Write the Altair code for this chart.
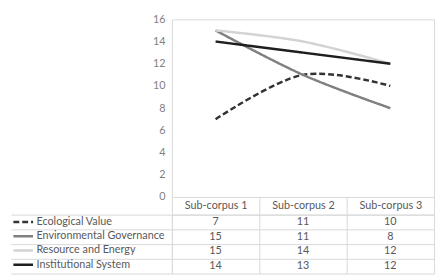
import altair as alt
import pandas as pd

corpora = ["Sub-corpus 1", "Sub-corpus 2", "Sub-corpus 3"]
series = ["Ecological Value", "Environmental Governance", "Resource and Energy", "Institutional System"]
ecological = [7, 11, 10]
environmental = [15, 11, 8]
resource = [15, 14, 12]
institutional = [14, 13, 12]
y_ticks = [0, 2, 4, 6, 8, 10, 12, 14, 16]

values_by_series = [ecological, environmental, resource, institutional]
rows = []
for s, vals in zip(series, values_by_series):
    for c, v in zip(corpora, vals):
        rows.append({"series": s, "corpus": c, "value": v})
df = pd.DataFrame(rows)

colors = ["#333333", "#808080", "#d3d3d3", "#1f1f1f"]
dashes = [[6, 3], [1, 0], [1, 0], [1, 0]]
font = "Lato"
grid_col = "#d9d9d9"
text_col = "#595959"

legend = alt.Legend(
    orient="none", legendX=-158, legendY=200, title=None,
    symbolType="M-2,0H2", symbolSize=100, symbolStrokeWidth=2.5,
    labelFont=font, labelFontSize=11, labelColor=text_col,
    labelOffset=7, rowPadding=2.5, padding=0,
)

lines = alt.Chart(df).mark_line(interpolate="cardinal", strokeWidth=2.5).encode(
    x=alt.X("corpus:N", sort=corpora,
            scale=alt.Scale(type="point", padding=0.5, domain=corpora), axis=None),
    y=alt.Y("value:Q", scale=alt.Scale(domain=[0, 16], nice=False),
            axis=alt.Axis(values=y_ticks, title=None, grid=False, ticks=False, domain=False,
                          labelFont=font, labelFontSize=11, labelColor="#7f7f7f",
                          labelPadding=7)),
    color=alt.Color("series:N", scale=alt.Scale(domain=series, range=colors), legend=legend),
    strokeDash=alt.StrokeDash("series:N", scale=alt.Scale(domain=series, range=dashes), legend=legend),
).properties(width=267, height=181, view=alt.ViewBackground(stroke=grid_col))

table = alt.Chart(df).mark_text(font=font, fontSize=11, color=text_col).encode(
    x=alt.X("corpus:N", sort=corpora,
            scale=alt.Scale(domain=corpora, paddingInner=0, paddingOuter=0),
            axis=alt.Axis(orient="top", title=None, tickBand="extent", ticks=True, tickSize=18,
                          tickColor=grid_col, labelPadding=-14, domain=True, domainColor=grid_col,
                          grid=True, gridColor=grid_col, labelFont=font, labelFontSize=11,
                          labelColor=text_col, labelAngle=0)),
    y=alt.Y("series:N", sort=series,
            scale=alt.Scale(domain=series, paddingInner=0, paddingOuter=0),
            axis=alt.Axis(title=None, tickBand="extent", ticks=True, tickSize=164,
                          tickColor=grid_col, labels=False, domain=True, domainColor=grid_col,
                          grid=True, gridColor=grid_col)),
    text="value:Q",
).properties(width=267, height=60, view=alt.ViewBackground(stroke=None))

chart = alt.vconcat(lines, table, spacing=18, bounds="flush").properties(
    padding={"left": 2, "top": 2, "right": 0, "bottom": 0}
).configure(font=font)

chart.save("out.html", embed_options={"renderer": "svg", "actions": False})
